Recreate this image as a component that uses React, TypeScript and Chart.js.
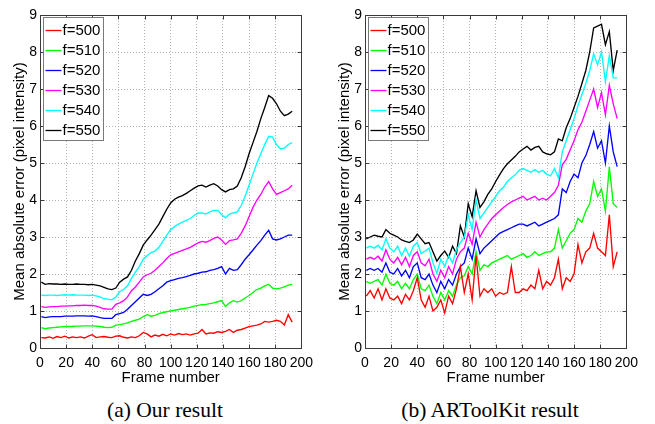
import React, { useEffect, useRef } from "react";
import { Chart, registerables } from "chart.js";

Chart.register(...registerables);

// Frame numbers (sampled every 3 frames)
const frames = [1, 4, 7, 10, 13, 16, 19, 22, 25, 28, 31, 34, 37, 40, 43, 46, 49, 52, 55, 58, 61, 64, 67, 70, 73, 76, 79, 82, 85, 88, 91, 94, 97, 100, 103, 106, 109, 112, 115, 118, 121, 124, 127, 130, 133, 136, 139, 142, 145, 148, 151, 154, 157, 160, 163, 166, 169, 172, 175, 178, 181, 184, 187, 190, 193];

const seriesLabels = ["f=500", "f=510", "f=520", "f=530", "f=540", "f=550"];
const seriesColors = ["#ff0000", "#00ff00", "#0000ff", "#ff00ff", "#00ffff", "#000000"];

// (a) Our result
const ours500 = [0.28, 0.27, 0.30, 0.26, 0.31, 0.28, 0.32, 0.27, 0.30, 0.28, 0.30, 0.27, 0.32, 0.36, 0.28, 0.30, 0.31, 0.29, 0.28, 0.32, 0.33, 0.29, 0.27, 0.30, 0.28, 0.33, 0.42, 0.38, 0.30, 0.35, 0.32, 0.37, 0.33, 0.38, 0.35, 0.39, 0.36, 0.38, 0.35, 0.38, 0.40, 0.50, 0.38, 0.41, 0.40, 0.44, 0.42, 0.45, 0.50, 0.42, 0.48, 0.50, 0.54, 0.58, 0.60, 0.62, 0.65, 0.72, 0.70, 0.72, 0.75, 0.72, 0.62, 0.90, 0.70];
const ours510 = [0.55, 0.52, 0.54, 0.55, 0.56, 0.57, 0.58, 0.58, 0.58, 0.59, 0.59, 0.60, 0.60, 0.60, 0.59, 0.58, 0.56, 0.55, 0.56, 0.62, 0.63, 0.65, 0.68, 0.72, 0.75, 0.78, 0.85, 0.90, 0.86, 0.88, 0.93, 0.96, 0.98, 1.00, 1.02, 1.04, 1.06, 1.08, 1.10, 1.13, 1.15, 1.17, 1.18, 1.20, 1.22, 1.25, 1.28, 1.12, 1.22, 1.28, 1.24, 1.28, 1.35, 1.42, 1.50, 1.58, 1.62, 1.68, 1.72, 1.62, 1.60, 1.62, 1.65, 1.70, 1.72];
const ours520 = [0.85, 0.82, 0.84, 0.85, 0.85, 0.85, 0.86, 0.86, 0.86, 0.87, 0.87, 0.87, 0.86, 0.87, 0.85, 0.82, 0.80, 0.80, 0.80, 0.90, 0.93, 0.96, 1.05, 1.15, 1.25, 1.35, 1.45, 1.42, 1.45, 1.52, 1.60, 1.68, 1.78, 1.82, 1.85, 1.88, 1.90, 1.93, 1.96, 2.00, 2.02, 2.05, 2.06, 2.10, 2.12, 2.15, 2.20, 2.00, 2.15, 2.10, 2.12, 2.25, 2.40, 2.52, 2.65, 2.78, 2.90, 3.05, 3.18, 2.95, 2.92, 2.95, 3.00, 3.05, 3.05];
const ours530 = [1.12, 1.10, 1.11, 1.12, 1.12, 1.13, 1.13, 1.14, 1.14, 1.15, 1.15, 1.16, 1.15, 1.15, 1.13, 1.10, 1.06, 1.05, 1.05, 1.18, 1.22, 1.28, 1.38, 1.55, 1.65, 1.78, 1.92, 1.98, 2.02, 2.10, 2.20, 2.30, 2.42, 2.52, 2.56, 2.60, 2.64, 2.68, 2.72, 2.78, 2.84, 2.88, 2.86, 2.90, 2.96, 3.00, 2.92, 2.80, 2.90, 2.92, 2.95, 3.10, 3.30, 3.55, 3.80, 4.00, 4.15, 4.35, 4.50, 4.30, 4.15, 4.20, 4.25, 4.30, 4.40];
const ours540 = [1.43, 1.42, 1.43, 1.43, 1.42, 1.43, 1.44, 1.43, 1.44, 1.43, 1.43, 1.43, 1.42, 1.43, 1.41, 1.38, 1.33, 1.32, 1.30, 1.38, 1.52, 1.58, 1.68, 1.88, 2.05, 2.20, 2.40, 2.50, 2.58, 2.62, 2.72, 2.88, 3.05, 3.20, 3.28, 3.35, 3.40, 3.45, 3.50, 3.58, 3.65, 3.65, 3.62, 3.68, 3.72, 3.72, 3.60, 3.52, 3.62, 3.65, 3.68, 3.85, 4.10, 4.40, 4.70, 5.00, 5.25, 5.50, 5.72, 5.70, 5.50, 5.38, 5.40, 5.50, 5.55];
const ours550 = [1.78, 1.72, 1.74, 1.73, 1.73, 1.72, 1.73, 1.72, 1.72, 1.73, 1.72, 1.72, 1.71, 1.72, 1.70, 1.68, 1.64, 1.60, 1.58, 1.62, 1.78, 1.86, 1.92, 2.10, 2.35, 2.55, 2.78, 2.92, 3.05, 3.20, 3.35, 3.55, 3.75, 3.92, 4.02, 4.08, 4.12, 4.18, 4.25, 4.32, 4.38, 4.40, 4.35, 4.40, 4.44, 4.38, 4.28, 4.22, 4.28, 4.30, 4.38, 4.60, 4.90, 5.25, 5.55, 5.85, 6.20, 6.50, 6.82, 6.75, 6.60, 6.40, 6.28, 6.32, 6.40];

// (b) ARToolKit result
const ark500 = [1.40, 1.55, 1.35, 1.60, 1.30, 1.60, 1.35, 1.30, 1.40, 1.20, 1.45, 1.30, 1.55, 1.90, 1.30, 1.10, 1.40, 1.00, 1.10, 1.30, 0.95, 1.40, 1.20, 1.60, 2.20, 1.50, 2.00, 1.30, 2.50, 1.40, 1.60, 1.50, 1.60, 1.40, 1.50, 1.45, 1.50, 2.20, 1.50, 1.50, 1.60, 1.55, 1.70, 1.60, 2.10, 1.60, 1.80, 1.70, 1.90, 2.40, 1.60, 1.90, 1.80, 2.00, 2.80, 2.30, 2.60, 2.70, 3.10, 2.70, 2.60, 2.50, 3.60, 2.20, 2.60];
const ark510 = [1.80, 1.75, 1.80, 1.85, 1.70, 2.00, 1.75, 1.70, 1.80, 1.60, 1.75, 1.60, 1.85, 2.00, 1.60, 1.55, 1.70, 1.40, 1.20, 1.50, 1.30, 1.55, 1.40, 1.70, 1.90, 1.95, 2.20, 2.00, 2.60, 2.10, 2.25, 2.20, 2.30, 2.35, 2.40, 2.45, 2.50, 2.40, 2.45, 2.50, 2.55, 2.45, 2.50, 2.60, 2.50, 2.55, 2.60, 2.60, 2.70, 3.20, 2.70, 2.90, 3.10, 3.20, 3.50, 3.40, 3.70, 3.90, 4.50, 4.10, 4.30, 3.70, 4.90, 3.90, 3.80];
const ark520 = [2.10, 2.15, 2.10, 2.15, 2.05, 2.30, 2.05, 2.00, 2.15, 1.95, 2.10, 1.90, 2.20, 2.30, 1.90, 1.85, 2.00, 1.70, 1.50, 1.80, 1.60, 1.85, 1.70, 2.00, 2.20, 2.30, 2.70, 2.40, 2.95, 2.55, 2.70, 2.80, 2.90, 3.00, 3.10, 3.15, 3.20, 3.25, 3.30, 3.35, 3.35, 3.30, 3.35, 3.40, 3.30, 3.35, 3.40, 3.45, 3.50, 3.60, 4.30, 4.20, 4.50, 4.70, 4.60, 5.00, 5.20, 5.50, 5.85, 5.40, 5.60, 5.00, 6.00, 5.30, 4.90];
const ark530 = [2.40, 2.45, 2.40, 2.48, 2.35, 2.65, 2.40, 2.30, 2.45, 2.25, 2.45, 2.20, 2.50, 2.60, 2.30, 2.22, 2.40, 2.00, 1.80, 2.10, 1.90, 2.20, 2.00, 2.40, 2.60, 2.70, 3.10, 2.80, 3.40, 3.00, 3.20, 3.35, 3.50, 3.60, 3.70, 3.80, 3.88, 3.95, 4.00, 4.05, 4.10, 4.00, 4.05, 4.10, 4.00, 4.05, 4.00, 4.10, 4.20, 4.40, 4.95, 5.10, 5.35, 5.60, 5.90, 6.10, 6.40, 6.70, 7.00, 6.50, 6.90, 6.30, 7.10, 6.60, 6.20];
const ark540 = [2.70, 2.75, 2.70, 2.78, 2.65, 2.95, 2.70, 2.60, 2.75, 2.50, 2.70, 2.48, 2.75, 2.85, 2.55, 2.62, 2.70, 2.30, 2.02, 2.40, 2.20, 2.50, 2.30, 2.65, 2.85, 3.00, 3.60, 3.20, 4.00, 3.50, 3.65, 3.80, 3.95, 4.10, 4.25, 4.35, 4.50, 4.60, 4.68, 4.80, 4.85, 4.80, 4.75, 4.82, 4.75, 4.80, 4.70, 4.65, 4.85, 4.60, 5.30, 5.60, 5.90, 6.20, 6.55, 6.85, 7.15, 7.50, 7.95, 7.65, 8.00, 7.20, 7.90, 7.30, 7.30];
const ark550 = [2.95, 3.00, 3.05, 3.02, 3.00, 3.20, 3.10, 3.05, 3.00, 2.92, 2.88, 2.85, 2.92, 3.08, 2.95, 2.82, 2.85, 2.60, 2.35, 2.50, 2.62, 2.45, 2.75, 2.55, 3.30, 3.00, 3.90, 3.55, 4.25, 3.80, 3.95, 4.15, 4.30, 4.50, 4.68, 4.85, 4.98, 5.08, 5.18, 5.30, 5.38, 5.45, 5.35, 5.42, 5.45, 5.30, 5.25, 5.22, 5.30, 5.65, 5.60, 5.95, 6.20, 6.50, 6.80, 7.15, 7.50, 8.00, 8.65, 8.70, 8.75, 8.20, 8.55, 7.50, 8.05];

const oursSeries = [ours500, ours510, ours520, ours530, ours540, ours550];
const arkSeries = [ark500, ark510, ark520, ark530, ark540, ark550];

const xMin = 0;
const xMax = 200;
const xStep = 20;
const yMin = 0;
const yMax = 9;
const yStep = 1;
const xTitle = "Frame number";
const yTitle = "Mean absolute error (pixel intensity)";

const SANS = "'Liberation Sans', Arial, Helvetica, sans-serif";
const SERIF = "'Liberation Serif', 'Times New Roman', Times, serif";

const boxLegendPlugin = {
  id: "boxLegend",
  afterDatasetsDraw(chart: any) {
    const { ctx, chartArea: a, scales } = chart;
    const L = Math.round(a.left) + 0.5;
    const T = Math.round(a.top) + 0.5;
    const R = Math.round(a.right) + 0.5;
    const B = Math.round(a.bottom) + 0.5;
    ctx.save();
    ctx.strokeStyle = "#3a3a3a";
    ctx.lineWidth = 1;
    ctx.setLineDash([]);
    ctx.strokeRect(L, T, R - L, B - T);
    const tl = 4;
    ctx.beginPath();
    scales.x.ticks.forEach((t: any) => {
      const px = Math.round(scales.x.getPixelForValue(t.value)) + 0.5;
      ctx.moveTo(px, B);
      ctx.lineTo(px, B - tl);
      ctx.moveTo(px, T);
      ctx.lineTo(px, T + tl);
    });
    scales.y.ticks.forEach((t: any) => {
      const py = Math.round(scales.y.getPixelForValue(t.value)) + 0.5;
      ctx.moveTo(L, py);
      ctx.lineTo(L + tl, py);
      ctx.moveTo(R, py);
      ctx.lineTo(R - tl, py);
    });
    ctx.stroke();

    // legend box inside the plot area
    const lx = L + 3;
    const ly = T + 2;
    const lw = 60;
    const lh = 123;
    ctx.fillStyle = "#ffffff";
    ctx.fillRect(lx, ly, lw, lh);
    ctx.strokeStyle = "#7a7a7a";
    ctx.strokeRect(lx, ly, lw, lh);
    ctx.font = `15px ${SANS}`;
    ctx.textBaseline = "middle";
    ctx.textAlign = "left";
    chart.data.datasets.forEach((ds: any, i: number) => {
      const cy = Math.round(ly + 12 + i * 20) + 0.5;
      ctx.strokeStyle = ds.borderColor;
      ctx.lineWidth = 1.3;
      ctx.beginPath();
      ctx.moveTo(lx + 2, cy);
      ctx.lineTo(lx + 18, cy);
      ctx.stroke();
      ctx.fillStyle = "#000000";
      ctx.fillText(ds.label, lx + 19, cy);
    });
    ctx.restore();
  },
};

function makeConfig(series: number[][]) {
  return {
    type: "line" as const,
    data: {
      datasets: series.map((vals, i) => ({
        label: seriesLabels[i],
        data: frames.map((f, j) => ({ x: f, y: vals[j] })),
        borderColor: seriesColors[i],
        backgroundColor: seriesColors[i],
        borderWidth: 1.35,
        pointRadius: 0,
        tension: 0,
        fill: false,
      })),
    },
    options: {
      responsive: false,
      animation: false as const,
      events: [] as any[],
      layout: { padding: { top: 15, right: 14, bottom: 0, left: 0 } },
      plugins: {
        legend: { display: false },
        tooltip: { enabled: false },
      },
      scales: {
        x: {
          type: "linear" as const,
          min: xMin,
          max: xMax,
          ticks: {
            stepSize: xStep,
            color: "#000",
            font: { family: SANS, size: 14 },
            padding: 7,
            maxRotation: 0,
          },
          grid: { color: "#b4b4b4", drawTicks: false, lineWidth: 1 },
          border: { display: false, dash: [1, 2] },
          title: {
            display: true,
            text: xTitle,
            color: "#000",
            font: { family: SANS, size: 15 },
            padding: { top: 0, bottom: 8 },
          },
          afterFit: (s: any) => {
            s.height = 47;
          },
        },
        y: {
          type: "linear" as const,
          min: yMin,
          max: yMax,
          ticks: {
            stepSize: yStep,
            color: "#000",
            font: { family: SANS, size: 14 },
            padding: 3,
          },
          grid: { color: "#b4b4b4", drawTicks: false, lineWidth: 1 },
          border: { display: false, dash: [1, 2] },
          title: {
            display: true,
            text: yTitle,
            color: "#000",
            font: { family: SANS, size: 15 },
            padding: { top: 11, bottom: 0 },
          },
          afterFit: (s: any) => {
            s.width = 40;
          },
        },
      },
    },
    plugins: [boxLegendPlugin],
  };
}

function Panel({ series, left, caption }: { series: number[][]; left: number; caption: string }) {
  const ref = useRef<HTMLCanvasElement | null>(null);
  useEffect(() => {
    if (!ref.current) return;
    const chart = new Chart(ref.current, makeConfig(series) as any);
    return () => chart.destroy();
  }, [series]);
  return (
    <>
      <div style={{ position: "absolute", left, top: 0, width: 320, height: 395 }}>
        <canvas ref={ref} width={320} height={395} style={{ width: 320, height: 395, display: "block" }} />
      </div>
      <div
        style={{
          position: "absolute",
          left: left,
          top: 397,
          width: 330,
          height: 26,
          lineHeight: "26px",
          textAlign: "center",
          fontFamily: SERIF,
          fontSize: 21.5,
          color: "#000",
          whiteSpace: "nowrap",
        }}
      >
        {caption}
      </div>
    </>
  );
}

export default function App() {
  return (
    <div
      style={{
        position: "fixed",
        left: 0,
        top: 0,
        width: 655,
        height: 424,
        background: "#ffffff",
        overflow: "hidden",
      }}
    >
      <Panel series={oursSeries} left={0} caption="(a) Our result" />
      <Panel series={arkSeries} left={325} caption="(b) ARToolKit result" />
    </div>
  );
}
